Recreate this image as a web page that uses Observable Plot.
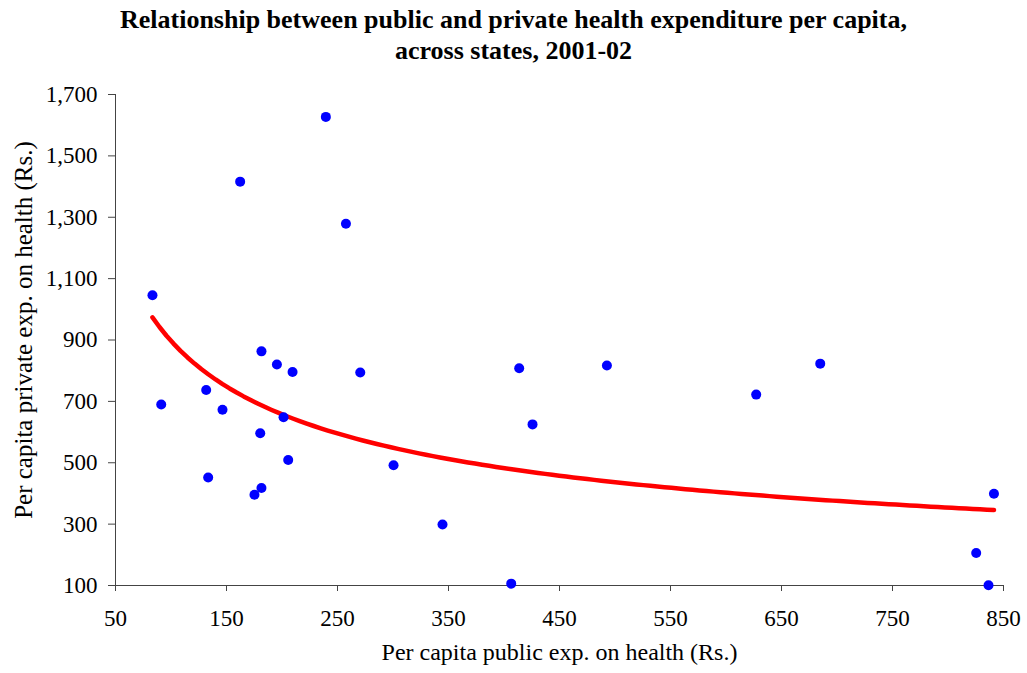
<!DOCTYPE html>
<html><head><meta charset="utf-8">
<script src="https://cdn.jsdelivr.net/npm/d3@7"></script>
<script src="https://cdn.jsdelivr.net/npm/@observablehq/plot@0.6"></script>
<style>
body{margin:0;background:#fff;}
#title{font-family:"Liberation Serif","Times New Roman",serif;font-weight:bold;font-size:26px;line-height:31px;text-align:center;padding-top:4px;width:1027px;height:62px;color:#000;}
</style></head><body>
<div id="title">Relationship between public and private health expenditure per capita,<br>across states, 2001-02</div>
<div id="chart"></div>
<script>
// Per capita public expenditure on health (Rs.) by state
const publicExp = [83.3, 91.2, 131.7, 133.5, 146.4, 162.3, 175.2, 180.4, 181.5, 181.5,
  195.4, 201.4, 205.6, 209.5, 239.5, 257.6, 270.5, 300.5, 344.6, 406.5,
  413.7, 425.7, 492.7, 627.2, 684.9, 825.4, 836.5, 841.4];
// Per capita private expenditure on health (Rs.) by state
const privateExp = [1046, 690, 737, 452, 673, 1416, 396, 596, 863, 418,
  820, 648, 509, 796, 1627, 1279, 794, 492, 299, 106,
  808, 625, 817, 722, 823, 206, 101, 399];
const xTicks = [50, 150, 250, 350, 450, 550, 650, 750, 850];
const yTicks = [100, 300, 500, 700, 900, 1100, 1300, 1500, 1700];
const xLabel = "Per capita public exp. on health (Rs.)";
const yLabel = "Per capita private exp. on health (Rs.)";

const data = publicExp.map((x, i) => ({x, y: privateExp[i]}));

// Power trendline (least squares on logs), as the source chart's trendline
const lx = publicExp.map(Math.log), ly = privateExp.map(Math.log);
const mx = d3.mean(lx), my = d3.mean(ly);
const b = d3.sum(lx, (v, i) => (v - mx) * (ly[i] - my)) / d3.sum(lx, v => (v - mx) ** 2);
const a = Math.exp(my - b * mx);
const [x0, x1] = d3.extent(publicExp);
const trend = d3.range(0, 121).map(i => {
  const x = x0 + (x1 - x0) * i / 120;
  return {x, y: a * Math.pow(x, b)};
});

const chart = Plot.plot({
  width: 1027, height: 607,
  marginLeft: 115, marginRight: 24, marginTop: 28, marginBottom: 88,
  style: {fontFamily: '"Liberation Serif","Times New Roman",serif', fontSize: "23px", color: "#000", background: "#fff"},
  x: {domain: [50, 850]},
  y: {domain: [100, 1700]},
  marks: [
    Plot.axisX({ticks: xTicks, tickSize: 6, tickPadding: 18, tickFormat: d => String(d), label: null, fontSize: 23, stroke: "#444"}),
    Plot.axisY({ticks: yTicks, tickSize: 7, tickPadding: 11, tickFormat: d3.format(","), label: null, fontSize: 23, stroke: "#444"}),
    Plot.ruleX([50], {stroke: "#444"}),
    Plot.ruleY([100], {stroke: "#444"}),
    Plot.line(trend, {x: "x", y: "y", stroke: "#ff0000", strokeWidth: 4.5}),
    Plot.dot(data, {x: "x", y: "y", r: 5, fill: "#0000ff"}),
    Plot.text([xLabel], {frameAnchor: "bottom", dy: 74, text: d => d, fontSize: 24, fill: "#000"}),
    Plot.text([yLabel], {frameAnchor: "left", dx: -92, dy: -10, textAnchor: "middle", rotate: -90, text: d => d, fontSize: 25, fill: "#000"})
  ]
});
document.getElementById("chart").appendChild(chart);
</script>
</body></html>
